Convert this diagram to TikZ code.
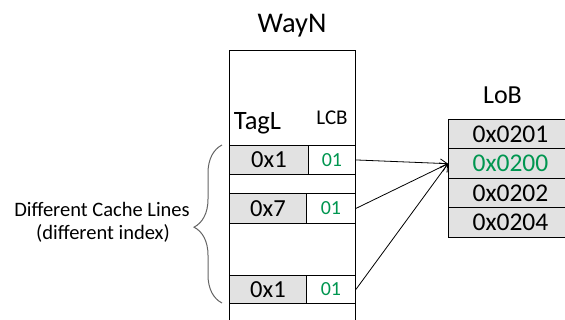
\documentclass[tikz,border=0pt]{standalone}
\usepackage{fontspec}
\setmainfont{Carlito}
\usetikzlibrary{arrows.meta,decorations.pathreplacing}
\definecolor{grn}{RGB}{0,150,80}
\definecolor{cellgray}{RGB}{226,226,226}
\definecolor{bracegray}{RGB}{100,100,100}
\begin{document}
\begin{tikzpicture}[x=1pt,y=-1pt,
  cell/.style={draw=black,line width=0.9pt,inner sep=0pt,anchor=north west},
  tagcell/.style={cell,fill=cellgray,font=\fontsize{24.5}{24.5}\selectfont},
  lcbcell/.style={cell,fill=white,text=grn,font=\fontsize{20}{20}\selectfont},
  lobcell/.style={cell,fill=cellgray,font=\fontsize{25.5}{25.5}\selectfont,minimum width=124pt,minimum height=29.5pt},
  lbl/.style={anchor=base,inner sep=0pt},
  conn/.style={-{Straight Barb[length=7pt,width=9pt]},line width=0.8pt},
]
\useasboundingbox (0,0) rectangle (565,320);
% column WayN
\draw[line width=0.9pt] (229,320) -- (229,50) -- (355,50) -- (355,320);
\node[lbl,font=\fontsize{28.5}{28.5}\selectfont] (wayn) at (292,33) {WayN};
\node[lbl,font=\fontsize{26.5}{26.5}\selectfont] (tagl) at (257.5,130) {TagL};
\node[lbl,font=\fontsize{21}{21}\selectfont] (lcb) at (332,125) {LCB};
% rows
\node[tagcell,minimum width=79pt,minimum height=29pt] (tag1) at (229,145) {0x1};
\node[lcbcell,minimum width=47pt,minimum height=29pt] (lcb1) at (308,145) {01};
\node[tagcell,minimum width=77pt,minimum height=30pt] (tag2) at (229,193) {0x7};
\node[lcbcell,minimum width=49pt,minimum height=30pt] (lcb2) at (306,193) {01};
\node[tagcell,minimum width=77pt,minimum height=28pt] (tag3) at (229,275) {0x1};
\node[lcbcell,minimum width=49pt,minimum height=28pt] (lcb3) at (306,275) {01};
% LoB
\node[lbl,font=\fontsize{26}{26}\selectfont] (lobt) at (502.5,104) {LoB};
\node[lobcell] (lob1) at (448,119) {0x0201};
\node[lobcell,text=grn] (lob2) at (448,148.5) {0x0200};
\node[lobcell] (lob3) at (448,178) {0x0202};
\node[lobcell] (lob4) at (448,207.5) {0x0204};
% connectors
\draw[conn] (lcb1.east) -- (lob2.west);
\draw[conn] (lcb2.east) -- (lob2.west);
\draw[conn] (lcb3.east) -- (lob2.west);
% brace and label
\draw[bracegray,line width=1pt,decorate,decoration={brace,amplitude=28pt,aspect=0.48}] (222,303) -- (222,145);
\node[lbl,font=\fontsize{20.5}{20.5}\selectfont] (dcl1) at (102,217) {Different Cache Lines};
\node[lbl,font=\fontsize{20.5}{20.5}\selectfont] (dcl2) at (103,240) {(different index)};
\end{tikzpicture}
\end{document}
